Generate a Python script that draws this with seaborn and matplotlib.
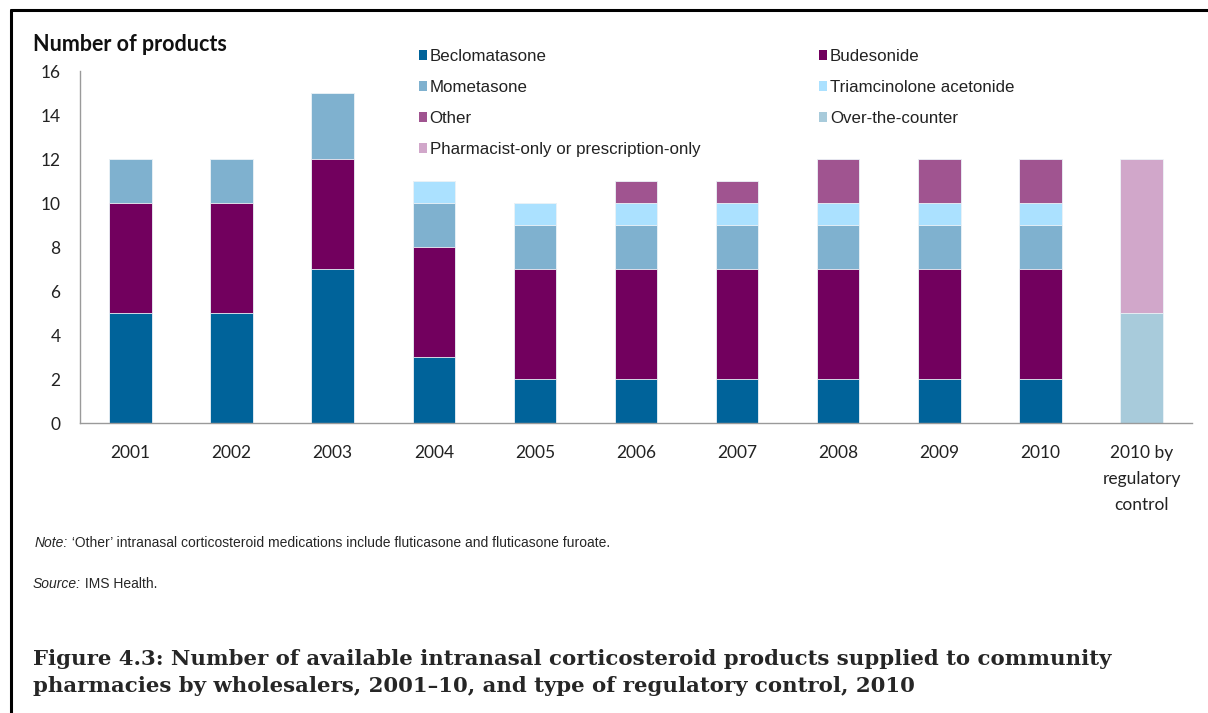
import numpy as np
import matplotlib
matplotlib.use("Agg")
import matplotlib.pyplot as plt
from matplotlib.patches import Patch
from matplotlib.lines import Line2D
import seaborn as sns

# Data
categories = ["2001", "2002", "2003", "2004", "2005", "2006", "2007", "2008", "2009", "2010",
              "2010 by\nregulatory\ncontrol"]
beclomatasone = [5, 5, 7, 3, 2, 2, 2, 2, 2, 2, 0]
budesonide = [5, 5, 5, 5, 5, 5, 5, 5, 5, 5, 0]
mometasone = [2, 2, 3, 2, 2, 2, 2, 2, 2, 2, 0]
triamcinolone = [0, 0, 0, 1, 1, 1, 1, 1, 1, 1, 0]
other = [0, 0, 0, 0, 0, 1, 1, 2, 2, 2, 0]
over_the_counter = [0, 0, 0, 0, 0, 0, 0, 0, 0, 0, 5]
pharmacist_only = [0, 0, 0, 0, 0, 0, 0, 0, 0, 0, 7]

series = [
    ("Beclomatasone", beclomatasone, "#00639a"),
    ("Budesonide", budesonide, "#72005e"),
    ("Mometasone", mometasone, "#7fb1cf"),
    ("Triamcinolone acetonide", triamcinolone, "#abe1ff"),
    ("Other", other, "#a05490"),
    ("Over-the-counter", over_the_counter, "#a8cbdb"),
    ("Pharmacist-only or prescription-only", pharmacist_only, "#d1a7ca"),
]

sns.set_style("white")
plt.rcParams["font.family"] = ["Lato", "DejaVu Sans"]

fig = plt.figure(figsize=(12.08, 7.13), dpi=100)
ax = fig.add_axes([0.0662, 0.4067, 0.9206, 0.4937])

# stacked bars: draw cumulative totals, tallest first
cum = np.cumsum([s[1] for s in series], axis=0)
for i in range(len(series) - 1, -1, -1):
    sns.barplot(x=categories, y=cum[i], color=series[i][2], width=0.42, ax=ax,
                order=categories, saturation=1, edgecolor="#eef4f8", linewidth=0.6)

ax.set_ylim(0, 16)
ax.set_yticks(range(0, 17, 2))
ax.set_xlim(-0.5, len(categories) - 0.5)
ax.set_xlabel("")
ax.set_ylabel("")
for side in ["top", "right"]:
    ax.spines[side].set_visible(False)
for side in ["left", "bottom"]:
    ax.spines[side].set_color("#9a9a9a")
    ax.spines[side].set_linewidth(1.0)
ax.tick_params(axis="both", length=0, labelsize=12.5, colors="#222222")
ax.tick_params(axis="y", pad=14)
ax.tick_params(axis="x", pad=16)
for lbl in ax.get_xticklabels():
    lbl.set_linespacing(1.75)

fig.text(0.027, 0.937, "Number of products", fontsize=15.5, fontweight="bold",
         va="center", ha="left", color="#111111")

# legend, row-wise order
handles = {name: Patch(facecolor=c, edgecolor="none") for name, _, c in series}
order = ["Beclomatasone", "Mometasone", "Other", "Pharmacist-only or prescription-only",
         "Budesonide", "Triamcinolone acetonide", "Over-the-counter"]
leg = fig.legend([handles[n] for n in order], order, ncol=2, loc="upper left",
                 bbox_to_anchor=(0.334, 0.953), frameon=False,
                 prop={"family": "Liberation Sans", "size": 12.2},
                 handlelength=0.5, handleheight=0.5, handletextpad=0.15,
                 labelspacing=0.95, columnspacing=7.0)
for t in leg.get_texts():
    t.set_color("#222222")

# note and source, italic lead-in followed by plain text
renderer = fig.canvas.get_renderer()
for x, y, lead, rest in [(0.029, 0.239, "Note:", " \u2018Other\u2019 intranasal corticosteroid medications include fluticasone and fluticasone furoate."),
                         (0.027, 0.181, "Source:", " IMS Health.")]:
    t1 = fig.text(x, y, lead, fontsize=10, style="italic", family="Liberation Sans", va="center")
    w = t1.get_window_extent(renderer).width
    fig.text(x + w / fig.bbox.width, y, rest, fontsize=10, family="Liberation Sans", va="center")

fig.text(0.027, 0.0565, "Figure 4.3: Number of available intranasal corticosteroid products supplied to community\n"
         "pharmacies by wholesalers, 2001\u201310, and type of regulatory control, 2010",
         fontsize=15.3, fontweight="bold", family="DejaVu Serif", va="center", linespacing=1.45)

# page frame lines (top and left)
fig.add_artist(Line2D([0.009, 1.0], [0.986, 0.986], color="black", lw=2.2, transform=fig.transFigure))
fig.add_artist(Line2D([0.009, 0.009], [0.0, 0.986], color="black", lw=2.2, transform=fig.transFigure))

fig.savefig("out.png", dpi=100)
